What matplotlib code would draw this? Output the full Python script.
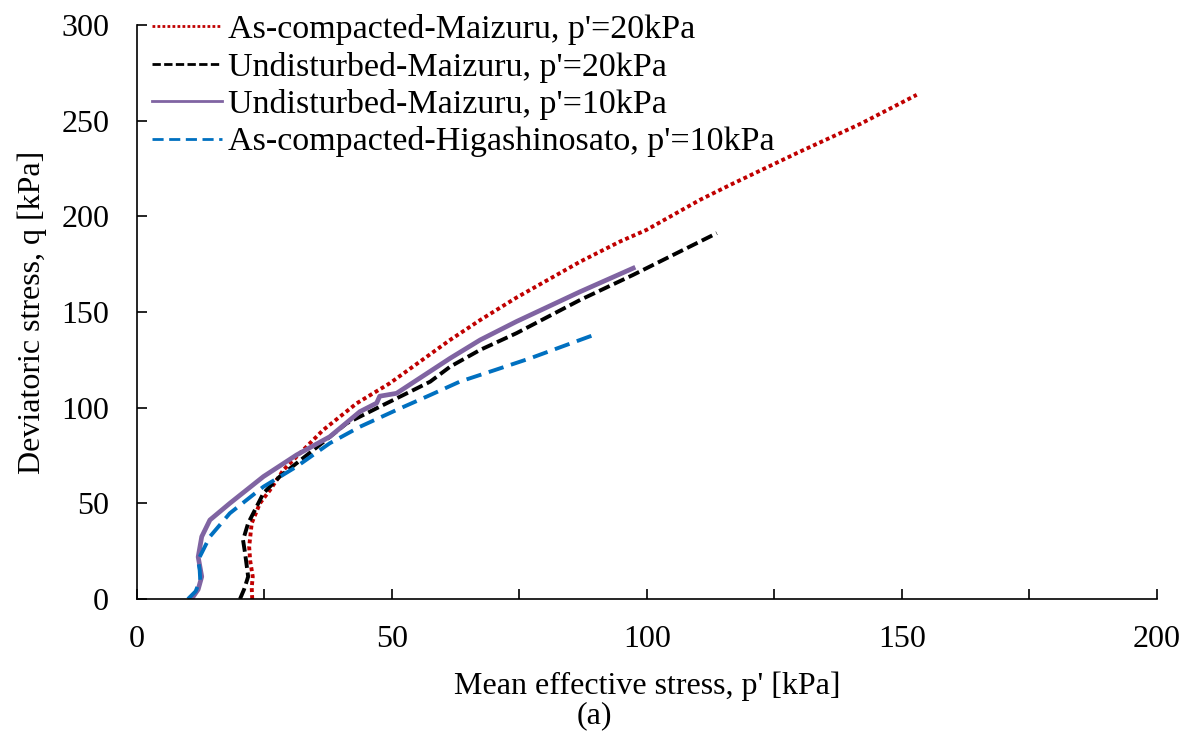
import matplotlib

matplotlib.use("Agg")
import matplotlib.pyplot as plt

plt.rcParams["font.family"] = ["Liberation Serif", "DejaVu Serif"]

# stress paths (p' and q in kPa)
p_ac_maizuru20 = [22.6, 22.5, 22.7, 22.2, 22.0, 22.5, 24.1, 26.1, 28.7, 32.6, 36.5, 43.1,
                  49.6, 61.4, 67.3, 74.4, 86.9, 94.7, 99.9, 110.4, 116.3, 130.0, 142.0, 152.9]
q_ac_maizuru20 = [0.0, 6.0, 11.7, 20.0, 27.3, 39.6, 50.0, 57.0, 67.4, 77.9, 88.3, 102.3,
                  112.8, 135.4, 145.8, 157.5, 176.3, 186.8, 192.9, 208.6, 216.4, 233.8, 248.5, 263.5]

p_ud_maizuru20 = [20.2, 21.0, 21.8, 21.2, 20.8, 21.8, 22.8, 24.8, 28.0, 34.6, 41.1, 47.6,
                  54.2, 57.5, 61.4, 67.3, 74.4, 86.9, 97.3, 113.7]
q_ud_maizuru20 = [0.0, 5.0, 11.7, 23.9, 30.8, 39.6, 44.8, 55.3, 64.0, 77.9, 91.8, 100.5,
                  109.2, 113.6, 121.4, 130.2, 138.9, 156.3, 169.4, 191.2]

p_ud_maizuru10 = [10.7, 12.0, 12.7, 12.0, 12.7, 14.3, 18.2, 24.8, 31.3, 37.8, 43.7, 47.0,
                  47.6, 50.9, 61.4, 67.3, 74.4, 86.9, 97.3]
q_ud_maizuru10 = [0.0, 5.0, 11.7, 22.0, 32.6, 41.3, 50.0, 64.0, 75.3, 84.8, 97.9, 102.4,
                  106.0, 107.5, 125.8, 135.4, 145.0, 160.6, 172.9]

p_ac_higashi10 = [10.0, 11.5, 12.4, 12.3, 12.0, 14.3, 18.2, 24.8, 31.3, 37.8, 43.7, 50.9,
                  57.5, 63.3, 70.0, 77.1, 86.9, 90.5]
q_ac_higashi10 = [0.0, 4.0, 10.0, 15.0, 20.4, 32.6, 44.8, 58.7, 69.2, 81.4, 90.0, 98.8,
                  106.6, 113.6, 119.5, 125.8, 135.4, 138.9]

fig, ax = plt.subplots(figsize=(11.89, 7.55), dpi=100)
fig.subplots_adjust(left=0.1152, right=0.973, bottom=0.2066, top=0.9669)

ax.plot(p_ac_maizuru20, q_ac_maizuru20, color="#C00000", linestyle=(0, (1, 0.8)), lw=2.8,
        label="As-compacted-Maizuru, p'=20kPa")
ax.plot(p_ud_maizuru20, q_ud_maizuru20, color="black", linestyle=(0, (3, 1.2)), lw=2.8,
        label="Undisturbed-Maizuru, p'=20kPa")
ax.plot(p_ud_maizuru10, q_ud_maizuru10, color="#8064A2", linestyle="-", lw=3.4,
        label="Undisturbed-Maizuru, p'=10kPa")
ax.plot(p_ac_higashi10, q_ac_higashi10, color="#0070C0", linestyle=(0, (4, 2)), lw=2.8,
        label="As-compacted-Higashinosato, p'=10kPa")

ax.set_xlim(0, 200)
ax.set_ylim(0, 300)
ax.set_xticks(range(0, 201, 50))
ax.set_xticks(range(0, 201, 25), minor=True)
ax.set_yticks(range(0, 301, 50))
ax.tick_params(axis="x", which="both", direction="in", length=7, width=1.2,
               labelsize=23, pad=19)
ax.tick_params(axis="y", direction="in", length=7, width=1.2, labelsize=23, pad=20)
for side in ("top", "right"):
    ax.spines[side].set_visible(False)
for side in ("left", "bottom"):
    ax.spines[side].set_linewidth(1.2)

ax.set_xlabel("Mean effective stress, p' [kPa]", fontsize=23, labelpad=12)
ax.set_ylabel("Deviatoric stress, q [kPa]", fontsize=23, labelpad=10)

leg = ax.legend(loc="upper left", bbox_to_anchor=(0.0147, 1.019), frameon=False,
                fontsize=24.5, handlelength=2.05, handletextpad=0.18, labelspacing=0.19,
                borderaxespad=0, borderpad=0)
for line in leg.get_lines():
    line.set_linewidth(2.0)

fig.text(0.5, 0.052, "(a)", ha="center", va="center", fontsize=23)

plt.savefig("out.png", dpi=100)
plt.close()
